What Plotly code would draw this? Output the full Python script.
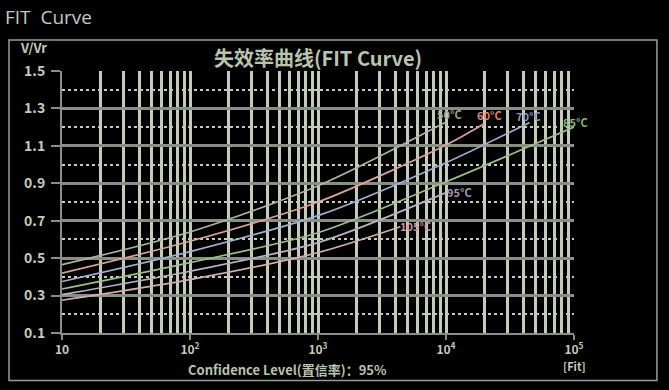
import math
import plotly.graph_objects as go

# ---- data ----
temps = ["50°C", "60°C", "70°C", "85°C", "95°C", "105°C"]
x_50 = [10, 100, 1000, 10000]
y_50 = [0.465, 0.64, 0.887, 1.228]
x_60 = [10, 100, 1000, 10000, 20000]
y_60 = [0.42, 0.59, 0.80, 1.105, 1.22]
x_70 = [10, 100, 1000, 10000, 45000]
y_70 = [0.375, 0.535, 0.727, 1.01, 1.225]
x_85 = [10, 100, 1000, 10000, 100000]
y_85 = [0.335, 0.476, 0.636, 0.908, 1.20]
x_95 = [10, 100, 1000, 10000]
y_95 = [0.305, 0.43, 0.583, 0.85]
x_105 = [10, 100, 1000, 4400]
y_105 = [0.275, 0.385, 0.53, 0.668]

xs = [x_50, x_60, x_70, x_85, x_95, x_105]
ys = [y_50, y_60, y_70, y_85, y_95, y_105]

x_major = [10, 100, 1000, 10000, 100000]
x_major_text = ["10", "10<sup>2</sup>", "10<sup>3</sup>", "10<sup>4</sup>", "10<sup>5</sup>"]
x_minor = [m * d for d in [10, 100, 1000, 10000] for m in range(2, 10)]

line_colors = ["#aab6a2", "#d8a496", "#a2aed2", "#98c08a", "#bab0c4", "#d2aeae"]
label_colors = ["#9aa88e", "#dc8676", "#8a9ccc", "#88ba78", "#aa9ab8", "#cc9696"]
label_shift = [(3, 8), (5, 8), (-1, 6), (1, 5), (13, 1), (15, 1)]

grid_light = "#c4ccb8"
grid_dark = "#8a8f86"
text_col = "#c4ccb8"
FONT = "Noto Sans CJK SC"

fig = go.Figure()
for i, name in enumerate(temps):
    fig.add_trace(go.Scatter(
        x=xs[i], y=ys[i], mode="lines", name=name,
        line=dict(color=line_colors[i], width=1.7, shape="spline", smoothing=0.8),
        showlegend=False,
    ))
    fig.add_annotation(
        x=math.log10(xs[i][-1]), y=ys[i][-1], xref="x", yref="y", text="<b>" + name + "</b>",
        showarrow=False, xshift=label_shift[i][0], yshift=label_shift[i][1],
        font=dict(family=FONT, size=11, color=label_colors[i]),
    )

fig.update_layout(
    width=669, height=390,
    margin=dict(l=62, r=95, t=71, b=57),
    paper_bgcolor="black", plot_bgcolor="black",
    font=dict(family=FONT, color=text_col),
    xaxis=dict(
        type="log", range=[1, 5],
        tickvals=x_major, ticktext=x_major_text,
        showgrid=True, gridcolor=grid_light, gridwidth=2.5,
        ticks="outside", ticklen=5, tickwidth=2, tickcolor=grid_dark,
        tickfont=dict(family=FONT, size=12, color=text_col, weight="bold"),
        showline=True, linecolor=grid_dark, linewidth=2, mirror=False,
        zeroline=False,
        minor=dict(tickvals=x_minor, showgrid=True, gridcolor=grid_light, gridwidth=2.5, ticks=""),
    ),
    yaxis=dict(
        range=[0.1, 1.5], tick0=0.1, dtick=0.2, tickformat=".1f",
        showgrid=True, gridcolor=grid_dark, gridwidth=2.5,
        ticks="outside", ticklen=9, tickwidth=2, tickcolor=grid_dark,
        ticklabelstandoff=3,
        tickfont=dict(family=FONT, size=14, color=text_col, weight="bold"),
        showline=True, linecolor=grid_dark, linewidth=2,
        zeroline=False,
        minor=dict(dtick=0.1, tick0=0.1, showgrid=True, gridcolor=grid_light, gridwidth=1.5, griddash="dot", ticks=""),
    ),
)

# frame and texts
fig.add_shape(type="rect", xref="paper", yref="paper",
              x0=-0.1035, x1=1.162, y0=-0.181, y1=1.118,
              line=dict(color="#9a9a9a", width=1.5), layer="below")

fig.add_annotation(xref="paper", yref="paper", x=-0.115, y=1.262, xanchor="left", yanchor="top",
                   text="FIT  Curve", showarrow=False,
                   font=dict(family="Open Sans", size=19, color="#c8c8c8"))
fig.add_annotation(xref="paper", yref="paper", x=0.5, y=1.05, xanchor="center", yanchor="middle",
                   text="<b>失效率曲线(FIT Curve)</b>", showarrow=False,
                   font=dict(family=FONT, size=20, color="#b8c4ac"))
fig.add_annotation(xref="paper", yref="paper", x=-0.085, y=1.09, xanchor="left", yanchor="middle",
                   text="<b>V/Vr</b>", showarrow=False,
                   font=dict(family=FONT, size=13, color=text_col))
fig.add_annotation(xref="paper", yref="paper", x=0.44, y=-0.14, xanchor="center", yanchor="middle",
                   text="<b>Confidence Level(置信率)：95%</b>", showarrow=False,
                   font=dict(family=FONT, size=13, color="#b8c4ac"))
fig.add_annotation(xref="paper", yref="paper", x=1.0, y=-0.125, xanchor="center", yanchor="middle",
                   text="<b>[Fit]</b>", showarrow=False,
                   font=dict(family=FONT, size=11, color=text_col))

fig.write_html("out.html")
